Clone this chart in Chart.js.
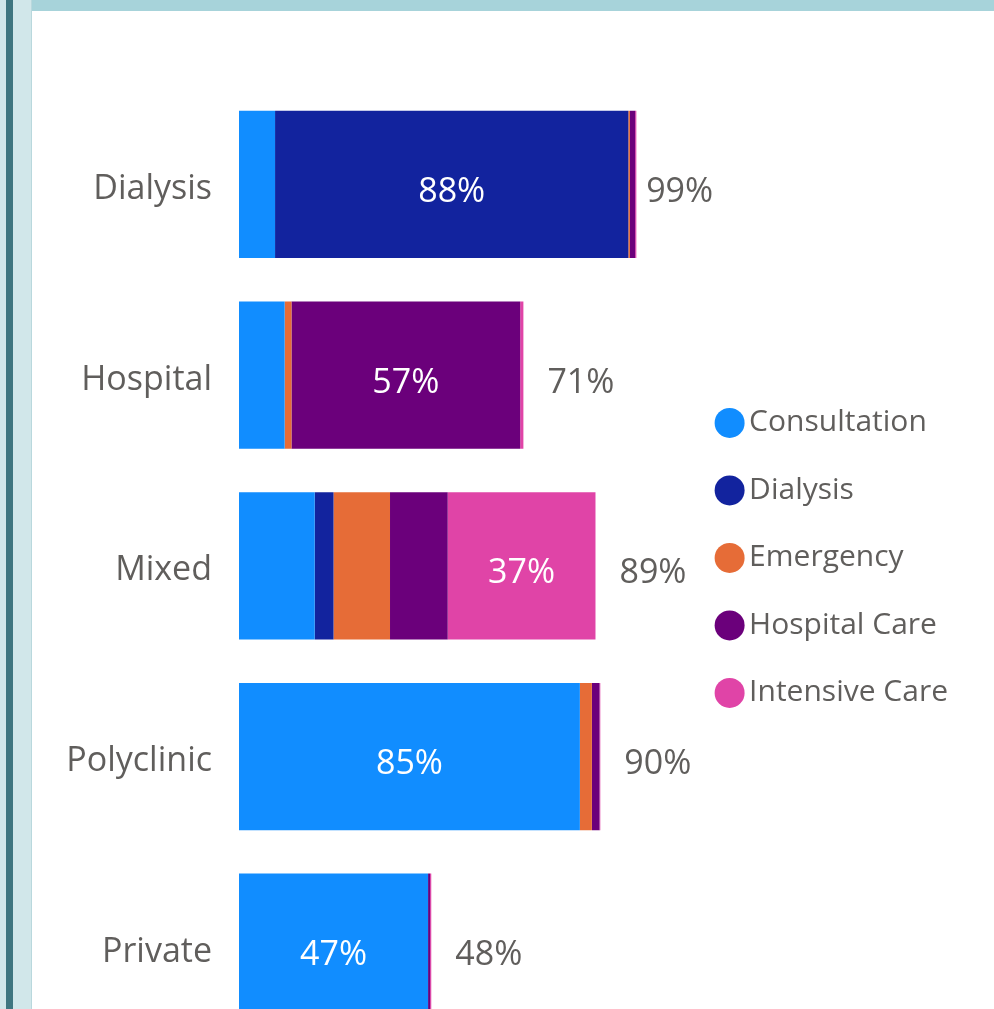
<!DOCTYPE html>
<html>
<head>
<meta charset="utf-8">
<script src="https://cdn.jsdelivr.net/npm/chart.js@4"></script>
<style>
    html, body { margin: 0; padding: 0; background: #fff; overflow: hidden; width: 994px; height: 1009px; }
    #side { position: absolute; left: 0; top: 0; width: 31px; height: 1009px; background: #d1e7ea; border-right: 1px solid #b9d8dd; }
    #side-line { position: absolute; left: 6px; top: 0; width: 7px; height: 1009px; background: #3f7680; }
    #top-band { position: absolute; left: 32px; top: 0; width: 962px; height: 11px; background: #a7d3da; }
    #myChart { position: absolute; left: 32px; top: 11px; }
</style>
</head>
<body>
<div id="side"><div id="side-line"></div></div>
<div id="top-band"></div>
<canvas id="myChart" width="962" height="1071"></canvas>
<script>
    const categories = ['Dialysis', 'Hospital', 'Mixed', 'Polyclinic', 'Private']
    const seriesNames = ['Consultation', 'Dialysis', 'Emergency', 'Hospital Care', 'Intensive Care']
    const seriesColors = ['#118DFF', '#12239E', '#E66C37', '#6B007B', '#E044A7']

    // percent of each facility type
    const consultation = [9.0, 11.4, 18.9, 85.1, 47.2]
    const dialysis = [88.2, 0, 4.7, 0, 0]
    const emergency = [0.4, 1.7, 14.1, 3.0, 0]
    const hospitalCare = [1.3, 57.1, 14.4, 1.9, 0.5]
    const intensiveCare = [0.3, 0.8, 36.9, 0.2, 0.3]

    const seriesValues = [consultation, dialysis, emergency, hospitalCare, intensiveCare]

    const fontName = '"Open Sans", "Noto Sans", sans-serif'
    const textGray = '#605E5C'

    const barLabels = {
        id: 'barLabels',
        afterDatasetsDraw(chart) {
            const ctx = chart.ctx
            const xScale = chart.scales.x
            const hit = chart.legend.legendHitBoxes[0]
            ctx.save()
            ctx.font = '34px ' + fontName
            ctx.textBaseline = 'middle'
            categories.forEach((cat, i) => {
                // label on the biggest segment
                let top = 0
                seriesValues.forEach((vals, j) => {
                    if (vals[i] > seriesValues[top][i]) top = j
                })
                const bar = chart.getDatasetMeta(top).data[i]
                ctx.fillStyle = '#fff'
                ctx.textAlign = 'center'
                ctx.fillText(Math.round(seriesValues[top][i]) + '%', (bar.x + bar.base) / 2, bar.y + 8)

                // total at the end of the stack
                const total = seriesValues.reduce((s, vals) => s + vals[i], 0)
                const txt = Math.round(total) + '%'
                const w = ctx.measureText(txt).width
                const end = xScale.getPixelForValue(total)
                const tx = Math.min(end + 24, hit.left - 12 - w)
                ctx.fillStyle = textGray
                ctx.textAlign = 'left'
                ctx.fillText(txt, tx, bar.y + 8)
            })
            ctx.restore()
        }
    }

    const ctx = document.getElementById('myChart')
    const myChart = new Chart(ctx, {
        type: 'bar',
        data: {
            labels: categories,
            datasets: seriesNames.map((name, k) => ({
                label: name,
                data: seriesValues[k],
                backgroundColor: seriesColors[k],
                borderWidth: 0,
                barPercentage: 0.772,
                categoryPercentage: 1
            }))
        },
        options: {
            indexAxis: 'y',
            responsive: false,
            animation: false,
            layout: {
                padding: { top: 78, bottom: 0, left: 0, right: 36 }
            },
            scales: {
                x: {
                    stacked: true,
                    display: false,
                    min: 0,
                    max: 112
                },
                y: {
                    stacked: true,
                    grid: { display: false },
                    border: { display: false },
                    ticks: {
                        padding: 19,
                        labelOffset: 5,
                        color: textGray,
                        font: { family: fontName, size: 34 }
                    },
                    afterFit(scale) {
                        scale.width = 207
                    }
                }
            },
            plugins: {
                legend: {
                    position: 'right',
                    align: 'start',
                    fullSize: false,
                    maxWidth: 400,
                    // empty title used as a spacer above the items
                    title: {
                        display: true,
                        text: '',
                        font: { size: 12 },
                        padding: { top: 0, bottom: 267 }
                    },
                    labels: {
                        usePointStyle: true,
                        pointStyle: 'circle',
                        boxWidth: 9,
                        boxHeight: 21.2,
                        padding: 37.5,
                        color: textGray,
                        font: { family: fontName, size: 30 }
                    }
                },
                tooltip: { enabled: false }
            }
        },
        plugins: [barLabels]
    })
</script>
</body>
</html>
